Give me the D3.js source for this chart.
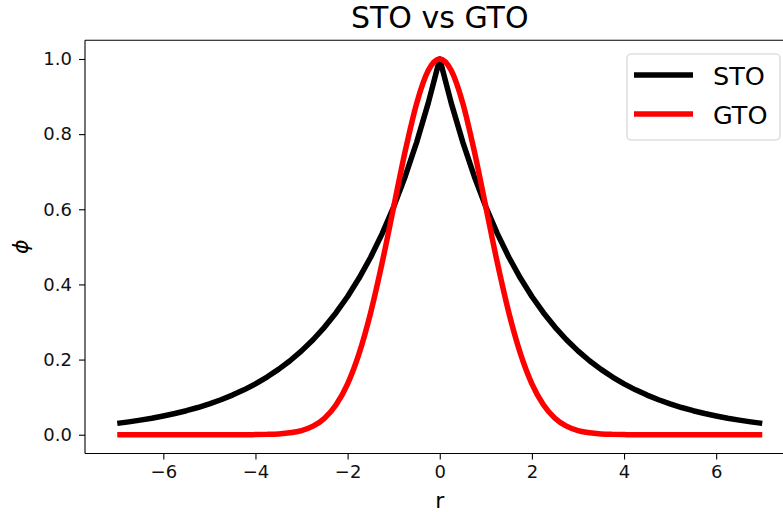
<!DOCTYPE html>
<html>
<head>
<meta charset="utf-8">
<script src="https://cdn.jsdelivr.net/npm/d3@7"></script>
<style>
  body { margin: 0; background: #fff; }
  text { font-family: "DejaVu Sans", sans-serif; }
</style>
</head>
<body>
<div id="chart"></div>
<script>
// r grid and the two curves
var rValues = [-7, -6.75, -6.5, -6.25, -6, -5.75, -5.5, -5.25, -5, -4.75, -4.5, -4.25,
  -4, -3.75, -3.5, -3.25, -3, -2.75, -2.5, -2.25, -2, -1.75, -1.5, -1.25, -1, -0.75,
  -0.5, -0.25, 0, 0.25, 0.5, 0.75, 1, 1.25, 1.5, 1.75, 2, 2.25, 2.5, 2.75, 3, 3.25,
  3.5, 3.75, 4, 4.25, 4.5, 4.75, 5, 5.25, 5.5, 5.75, 6, 6.25, 6.5, 6.75, 7];

var stoValues = [0.0302, 0.0342, 0.0388, 0.0439, 0.0498, 0.0564, 0.0639, 0.0724, 0.0821,
  0.0930, 0.1054, 0.1194, 0.1353, 0.1534, 0.1738, 0.1969, 0.2231, 0.2528, 0.2865, 0.3247,
  0.3679, 0.4169, 0.4724, 0.5353, 0.6065, 0.6873, 0.7788, 0.8825, 1.0, 0.8825, 0.7788,
  0.6873, 0.6065, 0.5353, 0.4724, 0.4169, 0.3679, 0.3247, 0.2865, 0.2528, 0.2231, 0.1969,
  0.1738, 0.1534, 0.1353, 0.1194, 0.1054, 0.0930, 0.0821, 0.0724, 0.0639, 0.0564, 0.0498,
  0.0439, 0.0388, 0.0342, 0.0302];

var gtoValues = [0, 0, 0, 0, 0, 0, 0, 0, 0, 0, 0, 0.0001, 0.0003, 0.0009, 0.0022, 0.0051,
  0.0111, 0.0228, 0.0439, 0.0796, 0.1353, 0.2163, 0.3247, 0.4578, 0.6065, 0.7548, 0.8825,
  0.9692, 1.0, 0.9692, 0.8825, 0.7548, 0.6065, 0.4578, 0.3247, 0.2163, 0.1353, 0.0796,
  0.0439, 0.0228, 0.0111, 0.0051, 0.0022, 0.0009, 0.0003, 0.0001, 0, 0, 0, 0, 0, 0, 0,
  0, 0, 0, 0];

var xTicks = [-6, -4, -2, 0, 2, 4, 6];
var yTicks = [0.0, 0.2, 0.4, 0.6, 0.8, 1.0];
var seriesNames = ['STO', 'GTO'];
var seriesColors = ['#000000', '#ff0000'];

var W = 783, H = 512;
var plotLeft = 85, plotRight = 794.5, plotTop = 40.2, plotBottom = 453.5;

var svg = d3.select('#chart').append('svg')
    .attr('width', W)
    .attr('height', H);

var x = d3.scaleLinear().domain([-7.7, 7.7]).range([plotLeft, plotRight]);
var y = d3.scaleLinear().domain([-0.05, 1.05]).range([plotBottom, plotTop]);

var minus = function(v) { return String(v).replace('-', '\u2212'); };

var xAxis = svg.append('g')
    .attr('transform', 'translate(0,' + plotBottom + ')')
    .call(d3.axisBottom(x).tickValues(xTicks).tickSize(6).tickPadding(6)
        .tickFormat(function(d) { return minus(d); }));

var yAxis = svg.append('g')
    .attr('transform', 'translate(' + plotLeft + ',0)')
    .call(d3.axisLeft(y).tickValues(yTicks).tickSize(6).tickPadding(7)
        .tickFormat(d3.format('.1f')));

[xAxis, yAxis].forEach(function(a) {
    a.select('.domain').remove();
    a.selectAll('line').style('stroke', '#000').style('stroke-width', 1.1);
    a.selectAll('text').style('font-size', '18px').style('fill', '#111')
        .style('font-family', '"DejaVu Sans", sans-serif');
});

// spines
svg.append('line').attr('x1', plotLeft).attr('x2', W).attr('y1', plotBottom).attr('y2', plotBottom)
    .style('stroke', '#000').style('stroke-width', 1.1);
svg.append('line').attr('x1', plotLeft).attr('x2', W).attr('y1', plotTop).attr('y2', plotTop)
    .style('stroke', '#000').style('stroke-width', 1.1);
svg.append('line').attr('x1', plotLeft).attr('x2', plotLeft).attr('y1', plotTop).attr('y2', plotBottom)
    .style('stroke', '#000').style('stroke-width', 1.1);

var sto = rValues.map(function(r, i) { return [r, stoValues[i]]; });
var gto = rValues.map(function(r, i) { return [r, gtoValues[i]]; });

svg.append('path')
    .datum(sto)
    .attr('d', d3.line().x(function(d) { return x(d[0]); }).y(function(d) { return y(d[1]); }))
    .style('fill', 'none')
    .style('stroke', seriesColors[0])
    .style('stroke-linejoin', 'round')
    .style('stroke-width', 5.5);

svg.append('path')
    .datum(gto)
    .attr('d', d3.line().curve(d3.curveMonotoneX)
        .x(function(d) { return x(d[0]); }).y(function(d) { return y(d[1]); }))
    .style('fill', 'none')
    .style('stroke', seriesColors[1])
    .style('stroke-linejoin', 'round')
    .style('stroke-width', 5.5);

// title and labels
svg.append('text')
    .attr('x', (plotLeft + plotRight) / 2)
    .attr('y', 28)
    .attr('text-anchor', 'middle')
    .style('font-size', '30px')
    .text('STO vs GTO');

svg.append('text')
    .attr('x', (plotLeft + plotRight) / 2)
    .attr('y', 508)
    .attr('text-anchor', 'middle')
    .style('font-size', '22px')
    .text('r');

svg.append('text')
    .attr('transform', 'translate(28,' + ((plotTop + plotBottom) / 2) + ') rotate(-90)')
    .attr('text-anchor', 'middle')
    .style('font-size', '22px')
    .style('font-style', 'italic')
    .text('\u03d5');

// legend
var lg = svg.append('g');
lg.append('rect')
    .attr('x', 627).attr('y', 54).attr('width', 153).attr('height', 86)
    .attr('rx', 4)
    .style('fill', '#fff').style('fill-opacity', 0.8)
    .style('stroke', '#d0d0d0').style('stroke-width', 1.1);

seriesNames.forEach(function(name, i) {
    var ly = 75 + i * 39;
    lg.append('line')
        .attr('x1', 634).attr('x2', 693).attr('y1', ly).attr('y2', ly)
        .style('stroke', seriesColors[i]).style('stroke-width', 5.5);
    lg.append('text')
        .attr('x', 713).attr('y', ly + 9.5)
        .style('font-size', '25.5px')
        .text(name);
});
</script>
</body>
</html>
